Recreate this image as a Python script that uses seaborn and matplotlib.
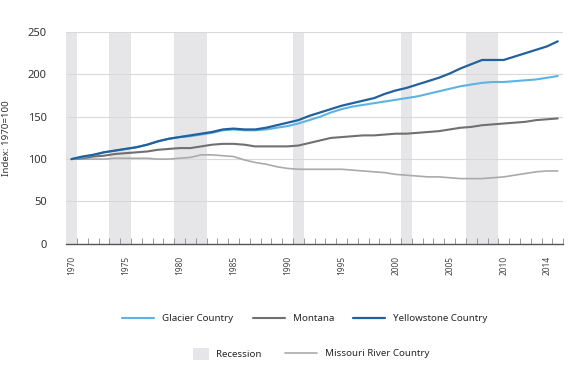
import pandas as pd
import matplotlib.pyplot as plt
import seaborn as sns
from matplotlib.lines import Line2D
from matplotlib.patches import Patch

# Dati (indice 1970=100)
years = list(range(1970, 2016))

glacier = [100, 102, 105, 108, 110, 112, 114, 117, 121, 124,
           126, 127, 129, 131, 134, 135, 134, 134, 135, 137,
           139, 142, 146, 150, 155, 159, 162, 164, 166, 168,
           170, 172, 174, 177, 180, 183, 186, 188, 190, 191,
           191, 192, 193, 194, 196, 198]

montana = [100, 101, 103, 104, 106, 107, 108, 109, 111, 112,
           113, 113, 115, 117, 118, 118, 117, 115, 115, 115,
           115, 116, 119, 122, 125, 126, 127, 128, 128, 129,
           130, 130, 131, 132, 133, 135, 137, 138, 140, 141,
           142, 143, 144, 146, 147, 148]

yellowstone = [100, 103, 105, 108, 110, 112, 114, 117, 121, 124,
               126, 128, 130, 132, 135, 136, 135, 135, 137, 140,
               143, 146, 151, 155, 159, 163, 166, 169, 172, 177,
               181, 184, 188, 192, 196, 201, 207, 212, 217, 217,
               217, 221, 225, 229, 233, 239]

missouri = [100, 100, 100, 100, 101, 101, 101, 101, 100, 100,
            101, 102, 105, 105, 104, 103, 99, 96, 94, 91,
            89, 88, 88, 88, 88, 88, 87, 86, 85, 84,
            82, 81, 80, 79, 79, 78, 77, 77, 77, 78,
            79, 81, 83, 85, 86, 86]

recession_years = [1970, 1974, 1975, 1980, 1981, 1982, 1991, 2001, 2007, 2008, 2009]
label_years = [1970, 1975, 1980, 1985, 1990, 1995, 2000, 2005, 2010, 2014]

series = {
    "Glacier Country": glacier,
    "Montana": montana,
    "Yellowstone Country": yellowstone,
    "Missouri River Country": missouri,
}
colors = {
    "Glacier Country": "#5cb3e4",
    "Montana": "#707070",
    "Yellowstone Country": "#22619e",
    "Missouri River Country": "#aaaaaa",
}
widths = {"Glacier Country": 1.5, "Montana": 1.5,
          "Yellowstone Country": 1.6, "Missouri River Country": 1.2}
band_color = "#e6e6e8"

df = pd.concat([pd.DataFrame({"year": years, "value": v, "region": k})
                for k, v in series.items()], ignore_index=True)

sns.set_style("white")
plt.rcParams["font.family"] = ["Noto Sans", "DejaVu Sans"]

fig = plt.figure(figsize=(5.7, 3.81), dpi=100)
ax = fig.add_axes([0.116, 0.36, 0.872, 0.556])

# Bande di recessione
for y in recession_years:
    ax.axvspan(y - 0.5, y + 0.5, color=band_color, lw=0, zorder=0)

for name in ["Missouri River Country", "Montana", "Glacier Country", "Yellowstone Country"]:
    sns.lineplot(data=df[df["region"] == name], x="year", y="value", ax=ax,
                 color=colors[name], lw=widths[name], legend=False, zorder=3)

ax.set_xlim(1969.5, 2015.5)
ax.set_ylim(0, 250)
ax.set_yticks([0, 50, 100, 150, 200, 250])
ax.yaxis.grid(True, color="#d9d9d9", lw=0.8, zorder=0.5)
ax.set_axisbelow(True)

ax.set_xticks(label_years)
ax.set_xticklabels([str(y) for y in label_years], rotation=90, fontsize=6, color="#444444")
ax.set_xticks([y - 0.5 for y in years[1:]] + [2015.5], minor=True)
ax.tick_params(axis="x", which="major", bottom=True, length=0, pad=9)
ax.tick_params(axis="x", which="minor", bottom=True, direction="in", length=4,
               width=0.6, color="#888888")
ax.tick_params(axis="y", length=0, labelsize=8, pad=14, labelcolor="#333333")

for s in ["top", "right", "left"]:
    ax.spines[s].set_visible(False)
ax.spines["bottom"].set_color("#555555")
ax.spines["bottom"].set_linewidth(1.0)

ax.set_xlabel("")
ax.set_ylabel("Index: 1970=100", fontsize=7, color="#333333", labelpad=12)

# Legende
h1 = [Line2D([0], [0], color=colors[n], lw=widths[n]) for n in
      ["Glacier Country", "Montana", "Yellowstone Country"]]
fig.legend(h1, ["Glacier Country", "Montana", "Yellowstone Country"],
           loc="center", bbox_to_anchor=(0.535, 0.163), ncol=3, frameon=False,
           fontsize=7, handlelength=3.3, columnspacing=2.0, handletextpad=0.8)
fig.legend([Patch(facecolor=band_color, edgecolor="none")], ["Recession"],
           loc="center left", bbox_to_anchor=(0.339, 0.071), frameon=False,
           borderpad=0, borderaxespad=0, fontsize=7,
           handlelength=1.6, handleheight=1.6, handletextpad=0.7)
fig.legend([Line2D([0], [0], color=colors["Missouri River Country"], lw=1.2)],
           ["Missouri River Country"],
           loc="center left", bbox_to_anchor=(0.5, 0.071), frameon=False,
           borderpad=0, borderaxespad=0, fontsize=7,
           handlelength=3.3, handletextpad=0.8)

fig.savefig("out.png", dpi=100)
plt.close(fig)
